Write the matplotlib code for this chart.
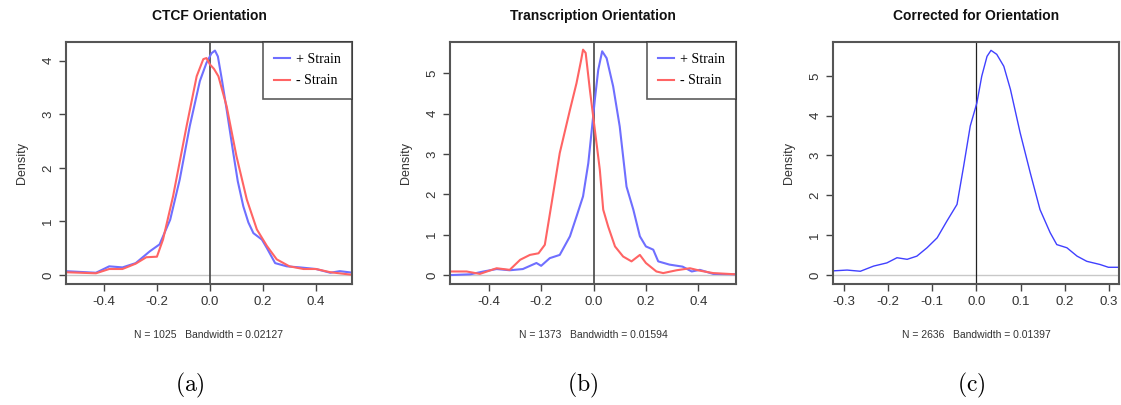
import numpy as np
import matplotlib.pyplot as plt

plt.rcParams['font.family'] = ['Liberation Sans', 'DejaVu Sans']
plt.rcParams['mathtext.fontset'] = 'cm'

# panel (a) CTCF orientation
ctcf_plus_x = [-0.545, -0.43, -0.38, -0.33, -0.28, -0.227, -0.19, -0.15, -0.114, -0.076,
               -0.038, -0.013, 0.006, 0.019, 0.03, 0.045, 0.063, 0.088, 0.105, 0.126, 0.145,
               0.164, 0.196, 0.215, 0.246, 0.29, 0.34, 0.40, 0.454, 0.49, 0.54]
ctcf_plus_y = [0.07, 0.04, 0.16, 0.14, 0.22, 0.44, 0.57, 1.03, 1.78, 2.78,
               3.62, 3.96, 4.14, 4.19, 4.08, 3.65, 3.09, 2.28, 1.75, 1.28, 0.98,
               0.78, 0.66, 0.50, 0.22, 0.16, 0.14, 0.11, 0.04, 0.07, 0.04]
ctcf_minus_x = [-0.545, -0.43, -0.38, -0.33, -0.28, -0.24, -0.20, -0.177, -0.139, -0.088,
                -0.05, -0.025, -0.013, 0.0, 0.015, 0.032, 0.063, 0.10, 0.139, 0.177, 0.215,
                0.252, 0.30, 0.353, 0.40, 0.454, 0.54]
ctcf_minus_y = [0.05, 0.03, 0.11, 0.11, 0.21, 0.33, 0.34, 0.66, 1.47, 2.78,
                3.71, 4.03, 4.05, 3.93, 3.85, 3.71, 3.15, 2.22, 1.41, 0.85, 0.54,
                0.29, 0.16, 0.11, 0.11, 0.05, 0.0]

# panel (b) transcription orientation
tx_plus_x = [-0.549, -0.47, -0.42, -0.37, -0.32, -0.27, -0.218, -0.20, -0.167, -0.129,
             -0.09, -0.065, -0.04, -0.02, -0.008, 0.005, 0.018, 0.033, 0.05, 0.075,
             0.10, 0.126, 0.152, 0.177, 0.20, 0.228, 0.247, 0.29, 0.34, 0.375,
             0.406, 0.457, 0.543]
tx_plus_y = [0.0, 0.02, 0.09, 0.15, 0.12, 0.15, 0.30, 0.23, 0.42, 0.50,
             0.96, 1.45, 1.95, 2.77, 3.51, 4.34, 5.08, 5.54, 5.37, 4.67,
             3.68, 2.19, 1.62, 0.96, 0.71, 0.63, 0.34, 0.26, 0.21, 0.09,
             0.13, 0.03, 0.02]
tx_minus_x = [-0.549, -0.485, -0.434, -0.37, -0.32, -0.28, -0.243, -0.21, -0.186, -0.16,
              -0.129, -0.09, -0.065, -0.048, -0.04, -0.03, -0.014, 0.005, 0.024, 0.037, 0.056,
              0.082, 0.113, 0.145, 0.177, 0.20, 0.24, 0.266, 0.317, 0.368, 0.406,
              0.457, 0.543]
tx_minus_y = [0.09, 0.09, 0.03, 0.17, 0.13, 0.38, 0.50, 0.54, 0.75, 1.78,
              3.02, 4.09, 4.75, 5.30, 5.58, 5.50, 4.59, 3.60, 2.61, 1.62, 1.20,
              0.71, 0.46, 0.34, 0.50, 0.30, 0.09, 0.05, 0.12, 0.17, 0.11,
              0.05, 0.02]

# panel (c) corrected
corr_x = [-0.325, -0.293, -0.263, -0.233, -0.203, -0.18, -0.157, -0.135, -0.112, -0.089,
          -0.067, -0.044, -0.029, -0.014, 0.001, 0.012, 0.024, 0.033, 0.046, 0.062,
          0.077, 0.099, 0.122, 0.144, 0.167, 0.182, 0.205, 0.228, 0.25, 0.28,
          0.299, 0.324]
corr_y = [0.10, 0.12, 0.09, 0.22, 0.30, 0.43, 0.39, 0.47, 0.68, 0.93,
          1.35, 1.77, 2.73, 3.74, 4.32, 4.99, 5.49, 5.64, 5.54, 5.24,
          4.66, 3.57, 2.56, 1.64, 1.06, 0.76, 0.68, 0.47, 0.34, 0.26,
          0.19, 0.19]

titles = ['CTCF Orientation', 'Transcription Orientation', 'Corrected for Orientation']
footers = ['N = 1025   Bandwidth = 0.02127', 'N = 1373   Bandwidth = 0.01594',
           'N = 2636   Bandwidth = 0.01397']
letters = ['(a)', '(b)', '(c)']

blue = '#6f6fff'
red = '#ff6464'
grey = '#444444'

fig = plt.figure(figsize=(11.21, 4.05), dpi=100)
lefts = [66 / 1121, 450 / 1121, 833 / 1121]
w = 286 / 1121
b = (405 - 284) / 405
h = 242 / 405
axes = [fig.add_axes([l, b, w, h]) for l in lefts]

limits = [((-0.543, 0.536), (-0.17, 4.35), [-0.4, -0.2, 0.0, 0.2, 0.4], [0, 1, 2, 3, 4]),
          ((-0.548, 0.544), (-0.22, 5.77), [-0.4, -0.2, 0.0, 0.2, 0.4], [0, 1, 2, 3, 4, 5]),
          ((-0.325, 0.323), (-0.23, 5.85), [-0.3, -0.2, -0.1, 0.0, 0.1, 0.2, 0.3], [0, 1, 2, 3, 4, 5])]

axes[0].plot(ctcf_plus_x, ctcf_plus_y, color=blue, lw=1.5, label='+ Strain')
axes[0].plot(ctcf_minus_x, ctcf_minus_y, color=red, lw=1.5, label='- Strain')
axes[1].plot(tx_plus_x, tx_plus_y, color=blue, lw=1.5, label='+ Strain')
axes[1].plot(tx_minus_x, tx_minus_y, color=red, lw=1.5, label='- Strain')
axes[2].plot(corr_x, corr_y, color='#4040ff', lw=1.0)

for i, ax in enumerate(axes):
    xl, yl, xt, yt = limits[i]
    ax.axhline(0, color='#c8c8c8', lw=1, zorder=0)
    ax.axvline(0, color=grey if i < 2 else '#222222', lw=1.2 if i < 2 else 0.9, zorder=0)
    ax.set_xlim(*xl)
    ax.set_ylim(*yl)
    ax.set_xticks(xt)
    ax.set_xticklabels(['%.1f' % v for v in xt])
    ax.set_yticks(yt)
    ax.set_yticklabels([str(v) for v in yt], rotation=90, va='center')
    ax.tick_params(colors=grey, labelcolor='#333333', labelsize=9.5, length=5, width=1)
    for s in ax.spines.values():
        s.set_color('#555555')
        s.set_linewidth(1.5)
    ax.set_title(titles[i], fontsize=10, fontweight='bold', pad=16, color='#111111')
    ax.set_ylabel('Density', fontsize=9, color='#333333', labelpad=10)
    ax.text(0.5, -0.21, footers[i], transform=ax.transAxes, ha='center', va='center',
            fontsize=7.5, color='#333333')

for ax in axes[:2]:
    leg = ax.legend(loc='upper right', fancybox=False, borderaxespad=0,
                    prop={'family': 'Liberation Serif', 'size': 10},
                    handlelength=1.2, handletextpad=0.4, labelspacing=0.6,
                    borderpad=0.8)
    leg.get_frame().set_edgecolor('#333333')
    leg.get_frame().set_linewidth(1.2)

for x, s in zip([190, 583, 971], letters):
    fig.text(x / 1121, 1 - 385 / 405, r'$\mathrm{%s}$' % s, ha='center', va='center',
             fontsize=17)

fig.savefig('out.png', dpi=100)
